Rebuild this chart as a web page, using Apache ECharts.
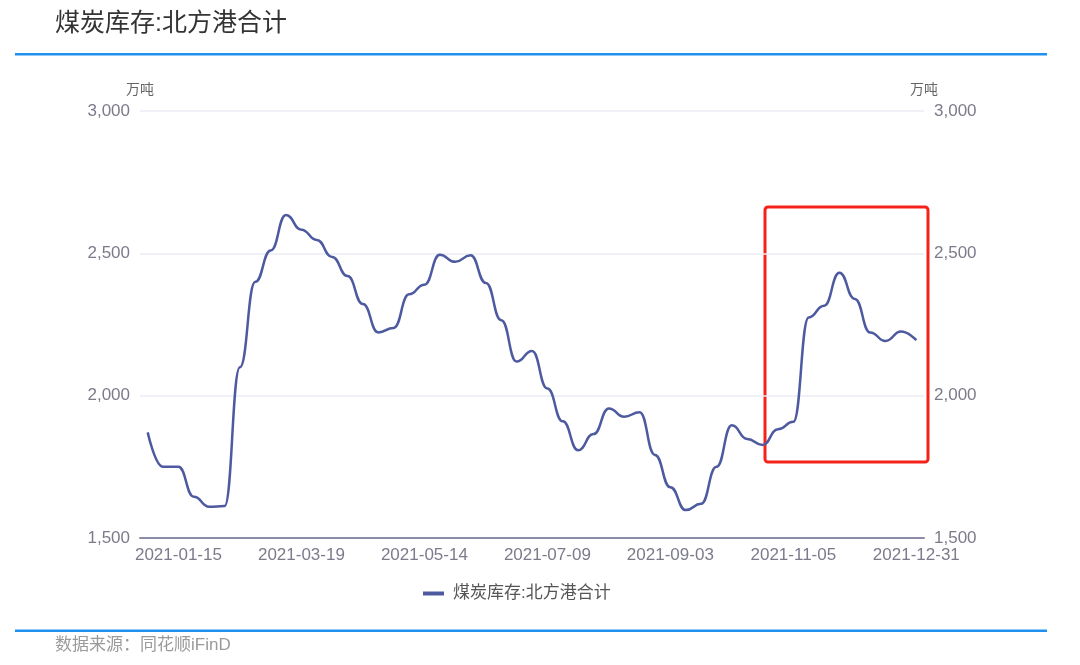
<!DOCTYPE html>
<html>
<head>
<meta charset="utf-8">
<script src="https://cdn.jsdelivr.net/npm/echarts@6/dist/echarts.min.js"></script>
<style>
html,body{margin:0;padding:0;background:#fff;}
#chart{width:1080px;height:665px;}
</style>
</head>
<body>
<div id="chart"></div>
<script>
const titleText = '煤炭库存:北方港合计';
const seriesName = '煤炭库存:北方港合计';
const unitName = '万吨';
const sourceText = '数据来源：同花顺iFinD';

const categories = [
  '2021-01-01','2021-01-08','2021-01-15','2021-01-22','2021-01-29','2021-02-05','2021-02-19','2021-02-26',
  '2021-03-05','2021-03-12','2021-03-19','2021-03-26','2021-04-02','2021-04-09','2021-04-16','2021-04-23',
  '2021-04-30','2021-05-07','2021-05-14','2021-05-21','2021-05-28','2021-06-04','2021-06-11','2021-06-18',
  '2021-06-25','2021-07-02','2021-07-09','2021-07-16','2021-07-23','2021-07-30','2021-08-06','2021-08-13',
  '2021-08-20','2021-08-27','2021-09-03','2021-09-10','2021-09-17','2021-09-24','2021-10-08','2021-10-15',
  '2021-10-22','2021-10-29','2021-11-05','2021-11-12','2021-11-19','2021-11-26','2021-12-03','2021-12-10',
  '2021-12-17','2021-12-24','2021-12-31'
];

const stockValues = [
  1871, 1750, 1750, 1645, 1610, 1612, 2100, 2400,
  2510, 2635, 2583, 2547, 2487, 2420, 2322, 2222,
  2238, 2356, 2390, 2495, 2470, 2493, 2396, 2265,
  2120, 2157, 2025, 1910, 1808, 1865, 1955, 1926,
  1942, 1792, 1678, 1598, 1620, 1750, 1896, 1848,
  1827, 1882, 1908, 2275, 2316, 2432, 2340, 2222,
  2192, 2225, 2195
];

const tickLabels = ['2021-01-15','2021-03-19','2021-05-14','2021-07-09','2021-09-03','2021-11-05','2021-12-31'];
const yTicks = [1500, 2000, 2500, 3000];

const FONT = '"Liberation Sans", Arial, "Noto Sans CJK SC", sans-serif';
const labelColor = '#7b7b8b';
const fmt = v => Number(v).toLocaleString('en-US');

const yAxisBase = {
  type: 'value',
  min: yTicks[0],
  max: yTicks[yTicks.length - 1],
  interval: 500,
  name: unitName,
  nameLocation: 'end',
  nameGap: 14,
  nameTextStyle: { color: '#666', fontSize: 14, fontFamily: FONT, align: 'center' },
  axisLine: { show: false },
  axisTick: { show: false },
  axisLabel: { color: labelColor, fontSize: 17, fontFamily: FONT, formatter: fmt, margin: 10 }
};

const chart = echarts.init(document.getElementById('chart'), null, { renderer: 'canvas' });
chart.setOption({
  animation: false,
  backgroundColor: '#fff',
  title: {
    text: titleText,
    left: 55, top: 12, padding: 0,
    textStyle: { fontSize: 25, fontWeight: 'normal', color: '#333', fontFamily: FONT }
  },
  legend: {
    data: [seriesName],
    left: 418, top: 580,
    icon: 'rect', itemWidth: 21, itemHeight: 4,
    textStyle: { fontSize: 17, color: '#555', fontFamily: FONT, padding: [0, 0, 0, 4] }
  },
  grid: { left: 140, right: 156, top: 111, bottom: 127, containLabel: false },
  xAxis: {
    type: 'category',
    data: categories,
    boundaryGap: true,
    axisLine: { show: true, lineStyle: { color: '#8c8ca6', width: 2 } },
    axisTick: { show: false },
    splitLine: { show: false },
    axisLabel: {
      color: labelColor, fontSize: 17, fontFamily: FONT, margin: 9,
      interval: (idx, val) => tickLabels.indexOf(val) >= 0,
      hideOverlap: false
    }
  },
  yAxis: [
    Object.assign({}, yAxisBase, {
      position: 'left',
      splitLine: { show: true, lineStyle: { color: '#ebebf5', width: 1.5 } }
    }),
    Object.assign({}, yAxisBase, {
      position: 'right',
      splitLine: { show: false }
    })
  ],
  series: [{
    name: seriesName,
    type: 'line',
    data: stockValues,
    smooth: 0.5,
    smoothMonotone: 'x',
    showSymbol: false,
    symbol: 'none',
    yAxisIndex: 0,
    lineStyle: { color: '#4d5aa0', width: 2.5 },
    itemStyle: { color: '#4d5aa0' }
  }],
  graphic: [
    { type: 'rect', shape: { x: 15, y: 53, width: 1032, height: 2.5 }, style: { fill: '#2090ee' }, silent: true },
    { type: 'rect', shape: { x: 15, y: 629.5, width: 1032, height: 2.5 }, style: { fill: '#2090ee' }, silent: true },
    { type: 'text', left: 55, top: 637, style: { text: sourceText, fill: '#9a9a9a', font: '17px ' + FONT }, silent: true },
    { type: 'rect', shape: { x: 765, y: 207, width: 163, height: 255, r: 3 },
      style: { fill: 'none', stroke: '#f5221b', lineWidth: 3 }, silent: true }
  ]
});
</script>
</body>
</html>
